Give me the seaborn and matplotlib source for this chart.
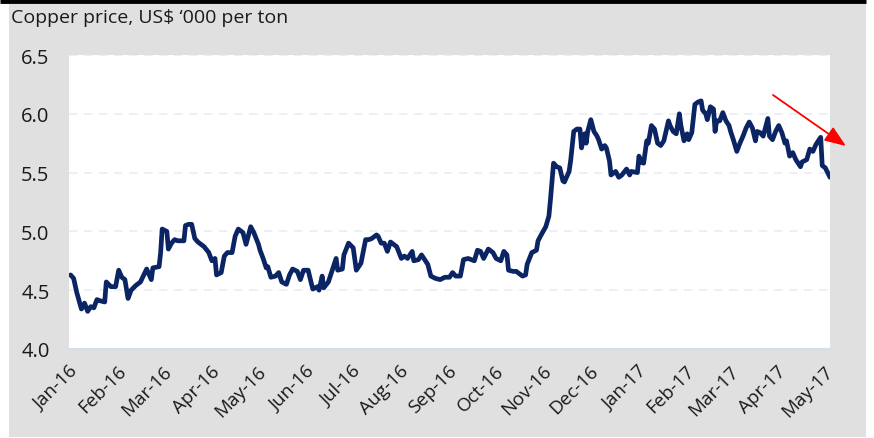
import datetime as dt
import matplotlib
matplotlib.use("Agg")
import matplotlib.pyplot as plt
import matplotlib.dates as mdates
from matplotlib.patches import Rectangle
from matplotlib.lines import Line2D
import pandas as pd
import seaborn as sns

# ---- data ----
start_date = "2016-01-01"
days = [1, 3, 5, 8, 10, 12, 14, 16, 18, 20, 23, 24, 27, 30, 32, 34, 36, 38, 40, 43,
        46, 50, 53, 54, 58, 59, 60, 63, 64, 66, 68, 70, 74, 75, 77, 79, 81, 83, 87, 90,
        92, 94, 95, 98, 100, 102, 105, 107, 109, 112, 114, 117, 119, 122, 123, 125, 127, 128, 130, 133,
        135, 137, 140, 142, 144, 147, 149, 151, 154, 156, 157, 160, 161, 163, 164, 167, 170, 172, 173, 176,
        177, 180, 183, 185, 188, 191, 193, 195, 198, 199, 201, 203, 205, 207, 209, 211, 214, 216, 218, 221,
        222, 225, 227, 229, 231, 233, 236, 239, 242, 245, 247, 249, 252, 254, 257, 259, 261, 263, 265, 267,
        270, 273, 275, 278, 280, 282, 283, 286, 288, 292, 294, 295, 298, 301, 302, 304, 307, 309, 310, 312,
        314, 316, 318, 319, 322, 323, 325, 327, 329, 330, 332, 333, 334, 336, 338, 340, 341, 343, 345, 346,
        348, 349, 352, 354, 356, 359, 361, 362, 366, 367, 368, 370, 372, 373, 375, 377, 379, 381, 383, 386,
        387, 389, 391, 393, 394, 396, 398, 399, 401, 403, 405, 407, 408, 410, 411, 413, 415, 416, 417, 419,
        421, 423, 425, 426, 428, 430, 432, 434, 436, 438, 440, 442, 443, 445, 447, 450, 451, 453, 455, 457,
        459, 461, 462, 464, 466, 468, 471, 472, 475, 477, 479, 481, 484, 485, 487, 490]
price = [4.63, 4.60, 4.48, 4.34, 4.39, 4.32, 4.36, 4.35, 4.42, 4.41, 4.40, 4.57, 4.53, 4.53, 4.67, 4.61, 4.59, 4.43, 4.50, 4.54,
         4.57, 4.68, 4.59, 4.69, 4.70, 4.82, 5.02, 5.00, 4.85, 4.90, 4.93, 4.92, 4.92, 5.05, 5.06, 5.06, 4.94, 4.91, 4.87, 4.82,
         4.75, 4.77, 4.63, 4.65, 4.79, 4.82, 4.82, 4.96, 5.02, 4.99, 4.89, 5.04, 4.99, 4.89, 4.84, 4.77, 4.69, 4.70, 4.61, 4.62,
         4.65, 4.57, 4.55, 4.63, 4.68, 4.66, 4.59, 4.67, 4.67, 4.56, 4.51, 4.53, 4.50, 4.62, 4.52, 4.57, 4.69, 4.77, 4.67, 4.68,
         4.80, 4.90, 4.86, 4.67, 4.73, 4.93, 4.93, 4.94, 4.97, 4.96, 4.90, 4.90, 4.83, 4.91, 4.89, 4.87, 4.77, 4.79, 4.77, 4.83,
         4.75, 4.76, 4.80, 4.76, 4.72, 4.62, 4.60, 4.59, 4.61, 4.61, 4.65, 4.62, 4.62, 4.76, 4.77, 4.76, 4.75, 4.84, 4.83, 4.77,
         4.85, 4.82, 4.77, 4.75, 4.83, 4.80, 4.67, 4.66, 4.66, 4.62, 4.63, 4.72, 4.82, 4.84, 4.92, 4.97, 5.04, 5.13, 5.27, 5.58,
         5.55, 5.54, 5.43, 5.42, 5.51, 5.60, 5.85, 5.87, 5.87, 5.71, 5.83, 5.75, 5.85, 5.95, 5.85, 5.81, 5.78, 5.70, 5.73, 5.71,
         5.60, 5.48, 5.51, 5.46, 5.48, 5.53, 5.48, 5.51, 5.50, 5.64, 5.59, 5.58, 5.77, 5.75, 5.90, 5.87, 5.75, 5.73, 5.77, 5.94,
         5.90, 5.85, 5.83, 6.00, 5.90, 5.77, 5.83, 5.78, 5.84, 6.08, 6.10, 6.11, 6.03, 6.00, 5.95, 6.06, 6.04, 5.85, 5.94, 5.94,
         6.01, 5.94, 5.90, 5.85, 5.77, 5.68, 5.75, 5.81, 5.88, 5.93, 5.88, 5.77, 5.85, 5.84, 5.81, 5.96, 5.81, 5.78, 5.85, 5.90,
         5.84, 5.75, 5.77, 5.64, 5.67, 5.61, 5.55, 5.59, 5.61, 5.70, 5.68, 5.74, 5.80, 5.56, 5.54, 5.46]
y_ticks = [4.0, 4.5, 5.0, 5.5, 6.0, 6.5]
title = "Copper price, US$ \u2018000 per ton"
x_end_day = 490

# ---- build frame ----
base = pd.Timestamp(start_date)
df = pd.DataFrame({"date": [base + pd.Timedelta(days=d) for d in days], "price": price})

W, H = 874, 439
sns.set_style("white")
plt.rcParams["font.family"] = ["Open Sans", "DejaVu Sans"]
fig = plt.figure(figsize=(W / 100, H / 100), dpi=100)
fig.patch.set_facecolor("white")

# background panel (drawn in a full-figure axes beneath the chart)
bg = fig.add_axes([0, 0, 1, 1], zorder=-5)
bg.set_xlim(0, W)
bg.set_ylim(H, 0)
bg.axis("off")
bg.add_patch(Rectangle((9, 5), 866 - 9, 438 - 5, facecolor="#e0e0e0", edgecolor="none"))
bg.plot([0, 866], [2.2, 2.2], color="black", linewidth=3.5, solid_capstyle="butt")

ax = fig.add_axes([69 / W, 1 - 350 / H, (830 - 69) / W, (350 - 56) / H], zorder=1)
ax.set_facecolor("white")

sns.lineplot(data=df, x="date", y="price", ax=ax, color="#0b2464", linewidth=3.4,
             solid_joinstyle="round", solid_capstyle="round")

ax.set_xlim(base, base + pd.Timedelta(days=x_end_day))
ax.set_ylim(y_ticks[0], y_ticks[-1])
ax.set_yticks(y_ticks)
ax.set_yticklabels([f"{v:.1f}" for v in y_ticks], fontsize=14.5, color="#1a1a1a")
ax.yaxis.grid(True, linestyle=(0, (5, 4)), color="#e6edf5", linewidth=1.2)
ax.xaxis.grid(False)

ax.xaxis.set_major_locator(mdates.MonthLocator())
ax.xaxis.set_major_formatter(mdates.DateFormatter("%b-%y"))
for lbl in ax.get_xticklabels():
    lbl.set_rotation(45)
    lbl.set_ha("right")
    lbl.set_rotation_mode("anchor")
    lbl.set_fontsize(13.5)
    lbl.set_color("#1a1a1a")
ax.tick_params(axis="both", length=0)
ax.tick_params(axis="x", pad=9)
ax.tick_params(axis="y", pad=14)

ax.set_xlabel("")
ax.set_ylabel("")
for s in ["top", "right", "left"]:
    ax.spines[s].set_visible(False)
ax.spines["bottom"].set_color("#d5dfea")
ax.spines["bottom"].set_linewidth(1.5)

fig.text(11 / W, 1 - 18 / H, title, fontsize=14, color="#1a1a1a", va="center", ha="left")

# trend arrow
ax.annotate("", xy=(846 / W, 1 - 147 / H), xytext=(773 / W, 1 - 96 / H),
            xycoords="figure fraction", textcoords="figure fraction",
            arrowprops=dict(arrowstyle="-|>,head_length=1.3,head_width=0.5",
                            color="#ff0000", linewidth=1.3, shrinkA=0, shrinkB=0),
            annotation_clip=False)

fig.savefig("out.png", dpi=100, facecolor=fig.get_facecolor())
